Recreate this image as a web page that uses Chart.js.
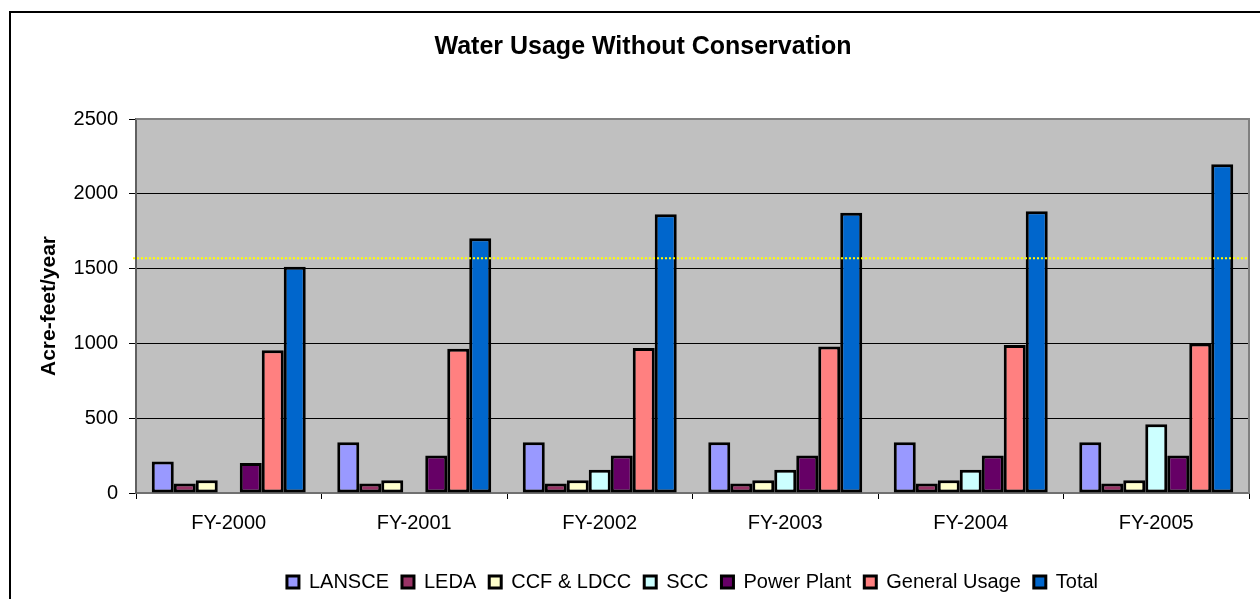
<!DOCTYPE html>
<html>
<head>
<meta charset="utf-8">
<title>Water Usage Without Conservation</title>
<script src="https://cdn.jsdelivr.net/npm/chart.js@4.4.1/dist/chart.umd.min.js"></script>
<style>
  html, body { margin: 0; padding: 0; background: #fff; overflow: hidden; }
  #wrap { width: 1260px; height: 599px; }
</style>
</head>
<body>
<div id="wrap"><canvas id="c" width="1260" height="599"></canvas></div>
<script>
// Fiscal years on the category axis
const categories = ['FY-2000', 'FY-2001', 'FY-2002', 'FY-2003', 'FY-2004', 'FY-2005'];

// Water use per facility, acre-feet per year
const lansce       = [210, 340, 340, 340, 340, 340];
const leda         = [63, 63, 63, 63, 63, 63];
const ccfLdcc      = [85, 85, 85, 85, 85, 85];
const scc          = [null, null, 155, 155, 155, 460];
const powerPlant   = [200, 250, 250, 250, 250, 250];
const generalUsage = [955, 965, 970, 980, 990, 1000];
const total        = [1513, 1703, 1863, 1873, 1883, 2198];

// Value-axis ticks
const yTicks = [0, 500, 1000, 1500, 2000, 2500];

// Allocation reference level drawn as a dotted line
const allocationLevel = 1570;

const FONT = "'Liberation Sans', Arial, Helvetica, sans-serif";

const series = [
  { label: 'LANSCE',        data: lansce,       color: '#9999FF' },
  { label: 'LEDA',          data: leda,         color: '#993366' },
  { label: 'CCF & LDCC',    data: ccfLdcc,      color: '#FFFFCC' },
  { label: 'SCC',           data: scc,          color: '#CCFFFF' },
  { label: 'Power Plant',   data: powerPlant,   color: '#660066' },
  { label: 'General Usage', data: generalUsage, color: '#FF8080' },
  { label: 'Total',         data: total,        color: '#0066CC' }
];

// Grey plot background, frame around the chart, plot border and the dotted level line
const decorations = {
  id: 'decorations',
  beforeDraw(chart) {
    const { ctx, chartArea: a } = chart;
    ctx.save();
    ctx.fillStyle = '#C0C0C0';
    ctx.fillRect(a.left, a.top, a.right - a.left, a.bottom - a.top);
    // outer chart frame (top and left edges)
    ctx.strokeStyle = '#000';
    ctx.lineWidth = 2;
    ctx.beginPath();
    ctx.moveTo(10, 1300);
    ctx.lineTo(10, 12);
    ctx.lineTo(1300, 12);
    ctx.stroke();
    ctx.restore();
  },
  afterDatasetsDraw(chart) {
    const { ctx, chartArea: a, scales } = chart;
    const y = scales.y.getPixelForValue(allocationLevel);
    ctx.save();
    ctx.strokeStyle = '#FFFF00';
    ctx.lineWidth = 2;
    ctx.setLineDash([2, 2]);
    ctx.beginPath();
    ctx.moveTo(a.left - 3, y);
    ctx.lineTo(a.right, y);
    ctx.stroke();
    ctx.setLineDash([]);
    // plot border on top and right
    ctx.strokeStyle = '#808080';
    ctx.lineWidth = 2;
    ctx.beginPath();
    ctx.moveTo(a.left, a.top);
    ctx.lineTo(a.right, a.top);
    ctx.lineTo(a.right, a.bottom);
    ctx.stroke();
    ctx.restore();
  }
};

new Chart(document.getElementById('c'), {
  type: 'bar',
  data: {
    labels: categories,
    datasets: series.map(s => ({
      label: s.label,
      data: s.data,
      backgroundColor: s.color,
      borderColor: '#000',
      borderWidth: 3,
      borderSkipped: false,
      categoryPercentage: 0.83,
      barPercentage: 1.0
    }))
  },
  options: {
    responsive: false,
    animation: false,
    devicePixelRatio: 1,
    layout: { padding: { left: 37, right: 11, top: 0, bottom: -3 } },
    plugins: {
      title: {
        display: true,
        text: 'Water Usage Without Conservation',
        color: '#000',
        font: { family: FONT, size: 25, weight: 'bold' },
        padding: { top: 32, bottom: 57 }
      },
      legend: {
        position: 'bottom',
        fullSize: false,
        labels: {
          color: '#000',
          font: { family: FONT, size: 20 },
          boxWidth: 12,
          boxHeight: 12,
          padding: 13
        }
      },
      tooltip: { enabled: false }
    },
    scales: {
      x: {
        afterFit(scale) { scale.height = 66; },
        grid: {
          offset: true,
          drawOnChartArea: false,
          drawTicks: true,
          tickLength: 6,
          tickColor: '#000'
        },
        border: { color: '#707070', width: 2 },
        ticks: {
          color: '#000',
          font: { family: FONT, size: 20 },
          padding: 12
        }
      },
      y: {
        min: 0,
        max: 2500,
        afterFit(scale) { scale.width = 99; },
        afterBuildTicks(scale) { scale.ticks = yTicks.map(v => ({ value: v })); },
        grid: {
          color: ctx => (ctx.tick && ctx.tick.value > 0 && ctx.tick.value < 2500) ? '#000' : 'rgba(0,0,0,0)',
          tickColor: '#000',
          tickLength: 7,
          lineWidth: 1
        },
        border: { color: '#606060', width: 2 },
        ticks: {
          color: '#000',
          font: { family: FONT, size: 20 },
          padding: 11,
          callback: v => String(v)
        },
        title: {
          display: true,
          text: 'Acre-feet/year',
          color: '#000',
          font: { family: FONT, size: 21, weight: 'bold' },
          padding: { top: 0, bottom: 0 }
        }
      }
    }
  },
  plugins: [decorations]
});
</script>
</body>
</html>
